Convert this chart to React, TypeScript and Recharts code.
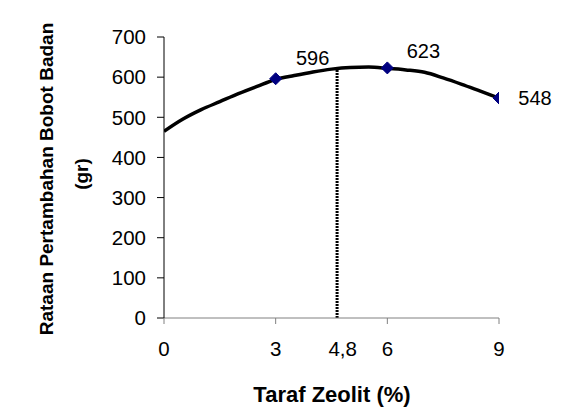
import { ComposedChart, Line, XAxis, YAxis, ReferenceLine, LabelList, Label } from 'recharts';

// taraf zeolit (%) and rataan pertambahan bobot badan (gr)
const obsX = [3, 6, 9];
const obsY = [596, 623, 548];
const obsLabels = ['596', '623', '548'];

// trendline
const curveX = [0, 0.5, 1, 1.5, 2, 2.5, 3, 3.5, 4, 4.5, 5, 5.5, 6, 6.5, 7, 7.5, 8, 8.5, 9];
const curveY = [465, 495, 519, 539, 559, 577, 594, 604, 613, 620, 624, 625, 622, 618, 612, 598, 582, 565, 548];

const xTicks = [0, 3, 4.8, 6, 9];
const yTicks = [0, 100, 200, 300, 400, 500, 600, 700];
const optimumX = 4.65;
const optimumY = 627;

const FONT = '"Liberation Sans", Arial, sans-serif';

const points = obsX.map((x, i) => ({ x, y: obsY[i], label: obsLabels[i] }));
const curve = curveX.map((x, i) => ({ x, y: curveY[i] }));

// label offsets next to each marker
const labelShift = [
  { dx: 37, dy: -21 },
  { dx: 36, dy: -17 },
  { dx: 36, dy: 0 },
];

function Diamond({ cx, cy }: any) {
  if (cx == null || cy == null) return null;
  const r = 6;
  return (
    <polygon
      points={`${cx},${cy - r} ${cx + r},${cy} ${cx},${cy + r} ${cx - r},${cy}`}
      fill="#000080"
      stroke="#000080"
    />
  );
}

function PointLabel({ x, y, value, index }: any) {
  const s = labelShift[index] || { dx: 36, dy: 0 };
  return (
    <text
      x={x + s.dx}
      y={y + s.dy}
      textAnchor="middle"
      dominantBaseline="central"
      fontFamily={FONT}
      fontSize={20}
      fill="#000"
    >
      {value}
    </text>
  );
}

function XTick({ x, y, payload }: any) {
  const v = payload.value;
  return (
    <g>
      {v !== 4.8 && <line x1={x} x2={x} y1={y - 23} y2={y - 17} stroke="#808080" />}
      <text x={x} y={y} dy="0.71em" textAnchor="middle" fontFamily={FONT} fontSize={20.5} fill="#000">
        {String(v).replace('.', ',')}
      </text>
    </g>
  );
}

function XTitle() {
  return (
    <text x={332} y={402} textAnchor="middle" fontFamily={FONT} fontWeight="bold" fontSize={22} fill="#000">
      Taraf Zeolit (%)
    </text>
  );
}

function YTitle() {
  return (
    <g fontFamily={FONT} fontWeight="bold" fontSize={19} fill="#000">
      <text x={46} y={179} transform="rotate(-90 46 179)" textAnchor="middle" dominantBaseline="central">
        Rataan Pertambahan Bobot Badan
      </text>
      <text x={81} y={174} transform="rotate(-90 81 174)" textAnchor="middle" dominantBaseline="central">
        (gr)
      </text>
    </g>
  );
}

export default function App() {
  return (
    <div style={{ position: 'absolute', left: 0, top: 0, width: 582, height: 420, background: '#fff' }}>
      <ComposedChart width={582} height={420} margin={{ top: 37, right: 83, left: 0, bottom: 0 }}>
        <XAxis
          type="number"
          dataKey="x"
          domain={[0, 9]}
          ticks={xTicks}
          axisLine={{ stroke: '#808080' }}
          tickLine={false}
          tickSize={6}
          tickMargin={17}
          tick={<XTick />}
          height={102}
          allowDataOverflow
        >
          <Label content={<XTitle />} />
        </XAxis>
        <YAxis
          type="number"
          domain={[0, 700]}
          ticks={yTicks}
          width={164}
          axisLine={{ stroke: '#000' }}
          tickLine={{ stroke: '#000' }}
          tickSize={7}
          tickMargin={11}
          tick={{ fontFamily: FONT, fontSize: 20.5, fill: '#000' }}
          label={<YTitle />}
        />
        <ReferenceLine
          segment={[
            { x: optimumX, y: 0 },
            { x: optimumX, y: optimumY },
          ]}
          stroke="#000"
          strokeWidth={3}
          strokeDasharray="2 1"
        />
        <Line
          data={curve}
          dataKey="y"
          type="monotone"
          stroke="#000"
          strokeWidth={3.5}
          dot={false}
          activeDot={false}
          isAnimationActive={false}
        />
        <Line
          data={points}
          dataKey="y"
          stroke="none"
          dot={<Diamond />}
          activeDot={false}
          isAnimationActive={false}
        >
          <LabelList dataKey="label" content={<PointLabel />} />
        </Line>
      </ComposedChart>
    </div>
  );
}
